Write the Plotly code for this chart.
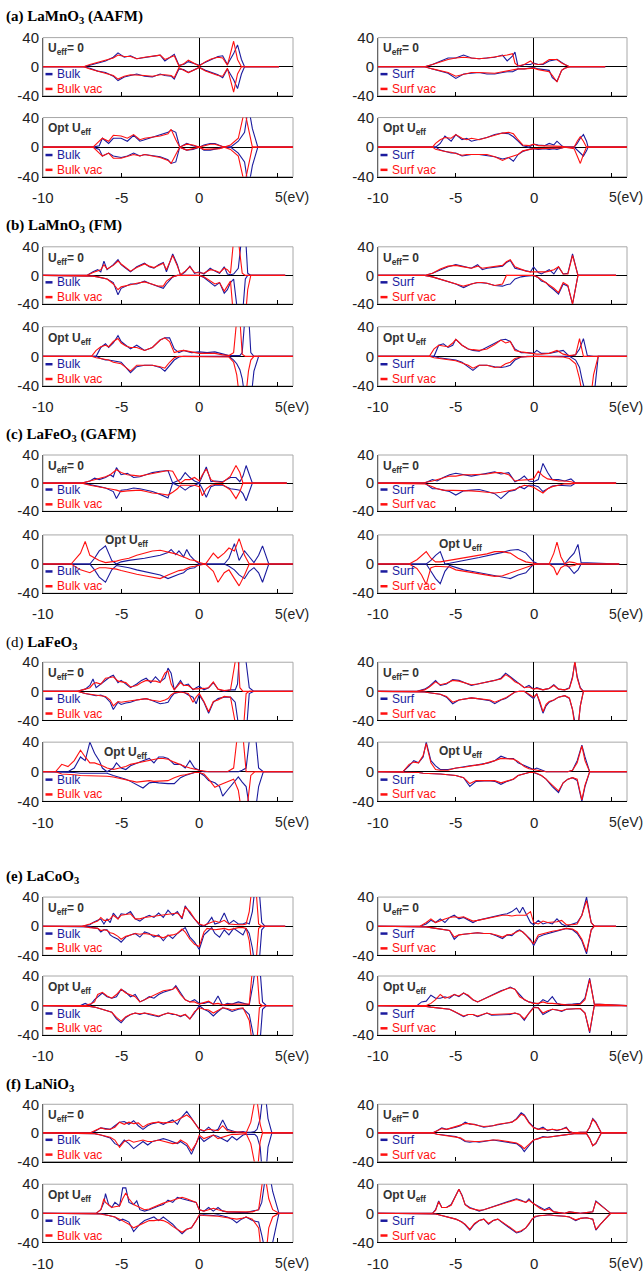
import plotly.graph_objects as go

# ===================== DATA (energy grid in eV, DOS values) =====================
# (a) LaMnO3 (AAFM)
A1_E = [-10, -7.4, -7.0, -6.5, -6.0, -5.5, -5.2, -4.8, -4.4, -4.0, -3.5, -3.0, -2.5, -2.2, -1.8, -1.6, -1.3, -1.0, -0.7, -0.3, 0.0, 0.4, 0.8, 1.2, 1.5, 1.8, 2.2, 2.45, 2.7, 2.9, 5.1]
A1_B_UP = [0, 0, 2, 5, 8, 13, 19, 13, 15, 11, 13, 15, 16, 8, 14, 17, 2, 3, 7, 4, 2, 6, 10, 14, 15, 3, 18, 30, 10, 0, 0]
A1_B_DN = [0, 0, -2, -6, -8, -13, -19, -14, -12, -10, -13, -14, -10, -12, -13, -17, -3, -4, -8, -4, -1, -5, -8, -11, -15, -3, -18, -30, -10, 0, 0]
A1_R_UP = [0, 0, 3, 6, 9, 12, 16, 14, 14, 11, 13, 14, 16, 10, 13, 15, 1, 4, 9, 5, 1, 7, 11, 13, 12, 2, 35, 10, 0, 0, 0]
A1_R_DN = [0, 0, -3, -6, -8, -12, -17, -13, -11, -11, -12, -13, -11, -11, -12, -15, -1, -5, -8, -4, -1, -6, -9, -12, -13, -2, -35, -10, 0, 0, 0]

A2_E = [-10, -7.0, -6.8, -6.4, -6.2, -5.8, -5.5, -5.0, -4.6, -4.2, -3.8, -3.5, -3.0, -2.5, -2.0, -1.8, -1.5, -1.25, -0.8, -0.4, 0, 0.3, 0.7, 1.0, 1.3, 1.6, 2.0, 2.5, 2.9, 3.15, 3.4, 3.75, 6]
A2_B_UP = [0, 0, 0, 2, 12, 5, 12, 12, 8, 16, 8, 10, 13, 16, 20, 23, 20, 0, 5, 2, 0, 3, 5, 5, 3, 0, 0, 8, 20, 55, 25, 0, 0]
A2_B_DN = [0, 0, 0, -3, -12, -8, -12, -14, -12, -8, -12, -10, -12, -13, -17, -22, -20, 0, -4, -3, 0, -4, -4, -3, -2, 0, 0, -8, -20, -55, -25, 0, 0]
A2_R_UP = [0, 0, 0, 8, 12, 8, 16, 15, 12, 17, 10, 12, 13, 15, 18, 24, 10, 0, 4, 3, 0, 2, 4, 4, 2, 0, 3, 12, 50, 25, 0, 0, 0]
A2_R_DN = [0, 0, 0, -8, -12, -8, -15, -15, -12, -10, -12, -10, -12, -14, -18, -22, -10, 0, -4, -2, 0, -3, -3, -2, -2, 0, -3, -12, -50, -25, 0, 0, 0]

A3_E = [-10, -7.0, -6.5, -6.0, -5.5, -5.0, -4.5, -4.0, -3.5, -3.0, -2.5, -2.0, -1.7, -1.35, -1.2, -1.0, -0.6, -0.2, 0, 0.3, 0.6, 1.0, 1.2, 1.5, 1.8, 2.0, 2.3, 4.6]
A3_B_UP = [0, 0, 3, 8, 12, 12, 16, 12, 11, 12, 13, 16, 8, 15, 20, 0, 3, 3, 5, 3, 3, 8, 9, 10, 6, 3, 0, 0]
A3_B_DN = [0, 0, -3, -6, -9, -16, -10, -9, -8, -10, -10, -8, -7, -7, -5, -3, -3, -2, -1, -3, -4, -5, -15, -20, -5, -2, 0, 0]
A3_R_UP = [0, 0, 3, 7, 10, 12, 13, 12, 11, 12, 13, 15, 16, 18, 5, 1, 3, 8, 4, 3, 4, 10, 10, 10, 5, 3, 0, 0]
A3_R_DN = [0, 0, -3, -6, -8, -13, -10, -8, -8, -9, -9, -7, -6, -5, -4, -3, -3, -2, -2, -4, -5, -7, -12, -21, -5, -2, 0, 0]

A4_E = [-10, -6.5, -6.3, -6.0, -5.7, -5.3, -5.0, -4.6, -4.3, -4.0, -3.5, -3.0, -2.5, -2.0, -1.6, -1.3, -1.0, -0.7, -0.3, 0, 0.3, 0.7, 1.0, 1.3, 1.5, 1.8, 2.0, 2.6, 2.8, 3.0, 3.2, 3.4, 3.5, 6]
A4_B_UP = [0, 0, 0, 5, 15, 8, 17, 10, 12, 8, 10, 13, 17, 19, 18, 14, 8, 2, 0, 4, 3, 2, 5, 3, 8, 2, 0, 0, 5, 12, 17, 8, 0, 0]
A4_B_DN = [0, 0, 0, -4, -6, -8, -8, -12, -11, -10, -10, -11, -13, -16, -14, -19, -10, -6, -3, -2, -3, -2, -3, -2, -3, -1, 0, 0, -4, -8, -12, -5, 0, 0]
A4_R_UP = [0, 0, 5, 10, 13, 12, 17, 12, 10, 12, 10, 13, 16, 19, 20, 18, 10, 3, 2, 4, 2, 2, 2, 2, 2, 1, 0, 0, 8, 14, 8, 0, 0, 0]
A4_R_DN = [0, 0, -3, -5, -6, -7, -9, -11, -10, -10, -9, -10, -13, -18, -14, -12, -10, -5, -3, -2, -2, -2, -2, -2, -2, -1, 0, -2, -12, -22, -10, 0, 0, 0]

# (b) LaMnO3 (FM)
B1_E = [-10, -7.2, -6.8, -6.5, -6.3, -6.1, -5.9, -5.5, -5.2, -5.0, -4.7, -4.4, -4.0, -3.5, -3.2, -2.9, -2.6, -2.3, -2.1, -1.7, -1.4, -1.2, -0.9, -0.6, -0.3, 0, 0.3, 0.7, 1.0, 1.3, 1.6, 1.8, 2.0, 2.2, 2.5, 2.75, 2.95, 3.1, 3.3, 5.5]
B1_B_UP = [0, 0, 5, 8, 5, 20, 8, 15, 22, 15, 10, 5, 12, 17, 12, 10, 15, 18, 5, 30, 15, 0, 5, 13, 3, 5, 2, 10, 6, 3, 12, 2, 1, 2, 10, 60, 60, 3, 0, 0]
B1_B_DN = [0, 0, -1, -2, -3, -4, -5, -10, -27, -18, -15, -12, -12, -8, -11, -13, -15, -18, -12, -2, 0, 0, 0, 0, 0, 0, -3, -10, -15, -10, -25, -20, -10, -5, -60, -60, -5, 0, 0, 0]
B1_R_UP = [0, 0, 4, 7, 8, 15, 9, 14, 20, 16, 11, 6, 11, 16, 13, 11, 14, 17, 8, 28, 13, 1, 6, 12, 4, 4, 3, 8, 7, 4, 10, 8, 3, 50, 50, 3, 0, 0, 0, 0]
B1_R_DN = [0, 0, -1, -2, -3, -4, -5, -12, -20, -16, -14, -13, -11, -9, -11, -13, -15, -15, -8, -2, 0, 0, 0, 0, 0, 0, -2, -8, -12, -10, -22, -15, -8, -60, -60, -60, -60, -20, 0, 0]

B2_E = [-10, -6.9, -6.6, -6.3, -6.0, -5.8, -5.5, -5.2, -5.0, -4.7, -4.4, -4.0, -3.5, -3.0, -2.5, -2.2, -1.9, -1.6, -1.3, -1.0, -0.5, 0, 0.5, 1.0, 1.5, 1.9, 2.2, 2.4, 2.6, 2.75, 2.95, 3.15, 3.3, 3.5, 3.8, 6]
B2_B_UP = [0, 0, 0, 12, 17, 12, 18, 28, 20, 15, 10, 15, 8, 12, 22, 25, 25, 10, 5, 8, 5, 6, 5, 6, 3, 1, 1, 1, 1, 5, 60, 60, 5, 0, 0, 0]
B2_B_DN = [0, 0, 0, -3, -5, -5, -6, -8, -8, -15, -22, -14, -12, -12, -15, -20, -12, -5, -1, 0, 0, 0, 0, 0, 0, 0, -5, -10, -18, -30, -60, -60, -60, -20, 0, 0]
B2_R_UP = [0, 0, 8, 13, 15, 13, 20, 24, 18, 14, 12, 12, 8, 12, 22, 25, 20, 5, 7, 8, 6, 4, 4, 4, 2, 1, 5, 50, 50, 3, 0, 0, 0, 0, 0, 0]
B2_R_DN = [0, 0, -2, -3, -4, -5, -8, -9, -10, -15, -20, -12, -12, -12, -14, -16, -8, -2, 0, 0, 0, 0, 0, 0, 0, -1, -8, -25, -60, -60, -60, -20, -5, 0, 0, 0]

B3_E = [-10, -7.0, -6.5, -6.0, -5.5, -5.0, -4.5, -4.0, -3.6, -3.3, -3.0, -2.5, -2.0, -1.75, -1.5, -1.2, -0.8, -0.5, -0.2, 0, 0.3, 0.5, 0.8, 1.0, 1.3, 1.6, 1.9, 2.2, 2.5, 2.85, 5.3]
B3_B_UP = [0, 0, 3, 8, 12, 15, 12, 10, 15, 8, 10, 12, 13, 18, 21, 10, 8, 7, 5, 12, 4, 2, 6, 8, 2, 12, 2, 3, 30, 0, 0]
B3_B_DN = [0, 0, -2, -5, -8, -12, -17, -12, -10, -10, -11, -14, -15, -13, -12, -5, -2, -1, 0, 0, -3, -8, -10, -15, -20, -26, -12, -15, -40, 0, 0]
B3_R_UP = [0, 0, 3, 9, 13, 14, 12, 10, 13, 10, 11, 12, 14, 19, 22, 12, 8, 6, 5, 5, 5, 4, 5, 6, 8, 12, 2, 2, 28, 0, 0]
B3_R_DN = [0, 0, -2, -5, -8, -12, -15, -12, -10, -10, -11, -14, -12, 0, 0, 0, 0, 0, 0, 0, -3, -6, -10, -13, -18, -24, -10, -14, -40, 0, 0]

B4_E = [-10, -6.7, -6.4, -6.1, -5.8, -5.5, -5.2, -5.0, -4.6, -4.2, -3.9, -3.5, -3.0, -2.5, -2.1, -1.8, -1.5, -1.2, -0.8, -0.4, 0, 0.2, 0.5, 1.0, 1.5, 1.9, 2.3, 2.7, 2.95, 3.1, 3.2, 3.45, 3.65, 3.85, 4.15, 6]
B4_B_UP = [0, 0, 0, 15, 17, 12, 15, 23, 15, 10, 8, 7, 12, 17, 22, 23, 20, 10, 5, 5, 4, 8, 4, 4, 6, 8, 0, 2, 10, 20, 24, 1, 0, 0, 0, 0]
B4_B_DN = [0, 0, 0, -2, -3, -4, -5, -5, -8, -14, -19, -12, -12, -14, -15, -14, -12, -5, -1, 0, 0, 0, 0, 0, 0, -1, 0, -5, -15, -30, -45, -60, -60, -60, 0, 0]
B4_R_UP = [0, 0, 10, 15, 14, 13, 18, 23, 15, 10, 9, 8, 10, 16, 22, 18, 20, 8, 6, 5, 3, 3, 3, 4, 8, 3, 1, 2, 24, 8, 0, 0, 0, 0, 0, 0]
B4_R_DN = [0, 0, -2, -3, -3, -4, -5, -6, -9, -12, -16, -12, -12, -15, -14, -10, -8, -3, -1, 0, 0, 0, 0, 0, 0, -1, -3, -10, -30, -60, -60, -60, -60, -25, 0, 0]

# (c) LaFeO3 (GAFM)
C1_E = [-10, -7.5, -7.0, -6.7, -6.4, -6.0, -5.7, -5.5, -5.3, -5.0, -4.6, -4.2, -3.8, -3.4, -3.0, -2.5, -2.0, -1.7, -1.4, -1.2, -0.9, -0.6, -0.3, 0, 0.2, 0.45, 0.75, 1.0, 1.5, 2.0, 2.35, 2.6, 2.8, 3.0, 3.4, 5.6]
C1_B_UP = [0, 0, 3, 7, 5, 8, 12, 9, 22, 12, 14, 8, 9, 12, 15, 17, 18, 0, 3, 5, 15, 8, 3, 0, 10, 23, 2, 3, 2, 8, 8, 2, 10, 25, 0, 0]
C1_B_DN = [0, 0, -2, -3, -5, -7, -10, -12, -22, -10, -9, -7, -8, -10, -12, -16, -21, 0, -3, -5, -10, -5, -3, 0, -8, -20, -5, -3, -3, -8, -9, -10, -15, -25, 0, 0]
C1_R_UP = [0, 0, 3, 5, 6, 9, 12, 15, 19, 15, 12, 11, 10, 12, 14, 16, 18, 17, 5, 0, 5, 5, 8, 3, 12, 20, 5, 2, 1, 10, 25, 15, 0, 0, 0, 0]
C1_R_DN = [0, 0, -3, -4, -5, -7, -8, -9, -10, -12, -11, -10, -10, -12, -14, -15, -17, -13, -8, -3, -3, -3, -3, -5, -18, -8, -3, -2, -2, -10, -22, -12, 0, 0, 0, 0]

C2_E = [-10, -8.2, -7.6, -7.3, -7.0, -6.7, -6.4, -6.0, -5.6, -5.3, -5.0, -4.5, -4.0, -3.5, -3.0, -2.5, -2.0, -1.8, -1.5, -1.3, -1.0, -0.8, -0.6, -0.3, 0, 0.4, 0.9, 1.2, 1.6, 1.9, 2.25, 2.55, 2.9, 3.2, 3.5, 3.8, 4.05, 4.45, 6]
C2_B_UP = [0, 0, 0, 0, 0, 8, 18, 25, 5, 0, 3, 5, 6, 8, 10, 12, 16, 20, 13, 18, 10, 20, 12, 5, 0, 0, 0, 0, 0, 8, 28, 5, 18, 10, 2, 12, 25, 0, 0]
C2_B_DN = [0, 0, 0, 0, 0, -8, -18, -25, -8, -2, -3, -5, -8, -10, -12, -15, -20, -18, -15, -14, -12, -8, -6, -5, 0, 0, 0, 0, 0, -3, -8, -15, -20, -10, -5, -12, -25, 0, 0]
C2_R_UP = [0, 0, 15, 31, 12, 8, 5, 2, 3, 4, 6, 8, 12, 15, 18, 19, 17, 16, 14, 12, 10, 8, 6, 5, 2, 0, 15, 8, 15, 22, 18, 35, 12, 0, 0, 0, 0, 0, 0]
C2_R_DN = [0, 0, -8, -10, -12, -8, -5, -5, -6, -7, -9, -12, -14, -16, -18, -20, -15, -13, -10, -9, -8, -6, -4, -3, -2, 0, -10, -25, -12, -8, -20, -30, -15, 0, 0, 0, 0, 0, 0]

C3_E = [-10, -7.2, -7.0, -6.5, -6.2, -5.8, -5.4, -5.0, -4.5, -4.0, -3.5, -3.0, -2.5, -2.1, -1.6, -1.2, -0.9, -0.6, -0.3, 0, 0.3, 0.6, 0.9, 1.2, 1.6, 2.0, 2.4, 2.7, 5.3]
C3_B_UP = [0, 0, 0, 5, 3, 8, 12, 14, 12, 10, 12, 14, 16, 13, 15, 2, 5, 10, 3, 2, 5, 28, 15, 5, 5, 3, 6, 0, 0]
C3_B_DN = [0, 0, 0, -8, -8, -10, -12, -17, -11, -10, -9, -12, -15, -22, -12, -10, -5, -8, -3, -3, -5, -12, -8, -4, -3, -3, -4, 0, 0]
C3_R_UP = [0, 0, 1, 3, 5, 8, 10, 10, 12, 12, 12, 13, 15, 15, 12, 3, 4, 4, 5, 6, 17, 10, 6, 5, 3, 3, 2, 0, 0]
C3_R_DN = [0, 0, -1, -5, -8, -10, -10, -11, -10, -11, -12, -13, -14, -13, -11, -9, -6, -3, -4, -6, -10, -14, -8, -5, -3, -1, -1, 0, 0]

C4_E = [-10, -8.0, -7.5, -7.2, -6.9, -6.6, -6.3, -6.0, -5.7, -5.4, -5.0, -4.5, -4.0, -3.5, -3.0, -2.5, -2.0, -1.5, -1.0, -0.5, -0.2, 0, 0.3, 1.0, 1.3, 1.5, 1.75, 2.0, 2.3, 2.6, 2.85, 3.05, 5.5]
C4_B_UP = [0, 0, 0, 0, 0, 5, 12, 17, 0, 1, 3, 5, 7, 9, 11, 14, 16, 19, 20, 15, 8, 3, 0, 0, 0, 0, 0, 0, 8, 15, 27, 2, 0]
C4_B_DN = [0, 0, 0, 0, 0, -10, -20, -27, -10, -2, -5, -8, -10, -12, -13, -15, -18, -20, -15, -12, -5, 0, 0, 0, 0, 0, 0, 0, -5, -13, -8, 0, 0]
C4_R_UP = [0, 0, 6, 12, 17, 8, 3, 3, 4, 5, 7, 8, 10, 12, 14, 17, 17, 15, 8, 3, 2, 1, 0, 0, 15, 30, 10, 0, 3, 2, 0, 0, 0]
C4_R_DN = [0, 0, -6, -15, -28, -5, -3, -3, -4, -4, -8, -10, -12, -14, -16, -17, -16, -12, -8, -4, -2, -1, 0, 0, -5, -15, -5, -2, -3, -2, 0, 0, 0]

# (d) LaFeO3
D1_E = [-10, -7.8, -7.3, -7.0, -6.8, -6.6, -6.3, -6.0, -5.7, -5.5, -5.2, -5.0, -4.7, -4.4, -4.0, -3.7, -3.4, -3.1, -2.8, -2.5, -2.2, -2.0, -1.8, -1.6, -1.2, -1.0, -0.7, -0.4, -0.2, 0, 0.3, 0.6, 0.9, 1.2, 1.6, 2.0, 2.3, 2.45, 2.6, 2.8, 3.0, 3.2, 3.5, 6]
D1_B_UP = [0, 0, 3, 8, 17, 5, 10, 15, 20, 22, 12, 15, 10, 5, 10, 15, 18, 12, 20, 13, 18, 32, 25, 2, 15, 8, 10, 2, 5, 7, 2, 5, 12, 3, 0, 2, 2, 10, 60, 60, 40, 5, 0, 0]
D1_B_DN = [0, 0, -3, -4, -5, -6, -5, -8, -15, -25, -15, -18, -16, -15, -12, -11, -10, -12, -14, -17, -16, -15, -8, -3, -1, -1, -5, -8, -17, -5, -15, -30, -15, -10, -8, -8, -15, -40, -60, -60, -60, -3, 0, 0]
D1_R_UP = [0, 0, 3, 5, 10, 12, 10, 18, 19, 20, 14, 13, 12, 6, 8, 12, 15, 14, 14, 12, 25, 28, 10, 2, 12, 8, 8, 3, 3, 3, 4, 5, 13, 3, 1, 2, 40, 60, 5, 0, 0, 0, 0, 0]
D1_R_DN = [0, 0, -3, -4, -5, -6, -6, -7, -12, -20, -14, -15, -14, -13, -11, -10, -10, -12, -13, -14, -12, -10, -5, -2, -1, -2, -3, -15, -8, -3, -14, -28, -14, -12, -7, -8, -60, -60, -60, -60, -3, 0, 0, 0]

D2_E = [-10, -9.2, -8.8, -8.4, -8.0, -7.6, -7.3, -7.0, -6.7, -6.4, -6.2, -5.9, -5.5, -5.3, -5.0, -4.7, -4.4, -4.0, -3.6, -3.2, -2.9, -2.6, -2.3, -2.0, -1.6, -1.2, -0.9, -0.6, -0.3, 0, 0.3, 0.6, 1.0, 1.3, 1.5, 1.8, 2.2, 2.5, 2.75, 3.0, 3.3, 3.55, 3.8, 4.1, 6]
D2_B_UP = [0, 0, 0, 0, 5, 20, 15, 40, 25, 15, 5, 0, 5, 12, 5, 3, 8, 12, 15, 18, 12, 20, 20, 18, 10, 10, 5, 15, 5, 2, 0, 0, 0, 0, 0, 0, 0, 0, 2, 5, 60, 60, 5, 0, 0]
D2_B_DN = [0, 0, 0, 0, -1, -2, -2, -3, -3, -3, -2, -2, -5, -6, -8, -10, -13, -18, -22, -15, -14, -15, -16, -16, -16, -8, -5, -3, -1, -1, -5, -12, -15, -20, -33, -25, -14, -7, -14, -20, -60, -60, -20, 0, 0]
D2_R_UP = [0, 0, 10, 7, 15, 29, 20, 12, 12, 10, 8, 5, 3, 4, 5, 7, 10, 12, 14, 16, 17, 18, 18, 17, 13, 9, 7, 5, 3, 2, 1, 0, 0, 0, 0, 0, 5, 60, 60, 0, 0, 0, 0, 0, 0]
D2_R_DN = [0, 0, -3, -3, -4, -5, -5, -5, -5, -5, -6, -6, -7, -8, -10, -11, -12, -14, -13, -12, -13, -13, -13, -12, -8, -5, -4, -2, -1, -1, -3, -10, -21, -18, -16, -13, -10, -25, -60, -60, -5, 0, 0, 0, 0]

D3_E = [-10, -7.5, -7.0, -6.7, -6.3, -6.0, -5.6, -5.2, -4.8, -4.4, -4.0, -3.6, -3.2, -2.8, -2.5, -2.1, -1.8, -1.5, -1.2, -0.9, -0.6, -0.3, 0, 0.2, 0.4, 0.6, 0.8, 1.0, 1.3, 1.6, 2.0, 2.3, 2.5, 2.65, 2.8, 3.0, 3.2, 6]
D3_B_UP = [0, 0, 3, 7, 15, 8, 10, 16, 15, 12, 8, 10, 12, 13, 15, 18, 25, 20, 15, 10, 5, 8, 3, 5, 3, 2, 3, 4, 9, 3, 2, 5, 20, 40, 20, 5, 0, 0]
D3_B_DN = [0, 0, -1, -2, -3, -4, -8, -17, -12, -10, -9, -10, -11, -13, -17, -12, -10, -6, -1, 0, 0, -5, -10, -3, -15, -30, -20, -15, -12, -8, -6, -10, -25, -50, -60, -20, 0, 0]
D3_R_UP = [0, 0, 2, 6, 13, 9, 11, 15, 14, 12, 9, 10, 12, 13, 15, 17, 23, 19, 13, 10, 5, 6, 3, 4, 3, 2, 3, 4, 8, 3, 2, 4, 18, 42, 18, 4, 0, 0]
D3_R_DN = [0, 0, -1, -2, -3, -4, -7, -15, -12, -10, -9, -10, -11, -12, -15, -12, -9, -5, -1, 0, 0, -4, -8, -4, -14, -28, -18, -14, -12, -8, -6, -9, -25, -50, -60, -20, 0, 0]

D4_E = [-10, -8.4, -8.0, -7.7, -7.4, -7.1, -6.9, -6.6, -6.3, -6.0, -5.5, -5.0, -4.5, -4.1, -3.7, -3.3, -2.9, -2.5, -2.1, -1.7, -1.3, -1.0, -0.6, -0.3, 0, 0.2, 0.5, 0.8, 1.2, 1.6, 1.9, 2.2, 2.5, 2.8, 3.1, 3.3, 3.6, 6]
D4_B_UP = [0, 0, 8, 15, 12, 20, 40, 15, 8, 3, 3, 5, 7, 8, 9, 10, 12, 15, 21, 18, 18, 12, 8, 5, 3, 5, 2, 0, 0, 0, 0, 0, 2, 15, 36, 20, 0, 0]
D4_B_DN = [0, 0, -1, -1, -1, -2, -2, -2, -3, -3, -4, -5, -8, -20, -13, -12, -12, -13, -17, -13, -10, -5, -3, -1, -1, -3, -5, -10, -20, -28, -15, -10, -8, -12, -40, -20, 0, 0]
D4_R_UP = [0, 0, 10, 13, 12, 22, 38, 12, 3, 2, 2, 5, 6, 8, 9, 10, 12, 15, 18, 18, 17, 14, 7, 4, 3, 2, 1, 0, 0, 0, 0, 0, 2, 12, 35, 15, 0, 0]
D4_R_DN = [0, 0, -1, -1, -1, -2, -2, -2, -3, -3, -4, -5, -8, -16, -12, -12, -11, -12, -15, -12, -10, -5, -3, -1, -1, -2, -5, -10, -18, -26, -15, -10, -8, -10, -38, -18, 0, 0]

# (e) LaCoO3
E1_E = [-10, -7.5, -7.0, -6.8, -6.5, -6.3, -6.1, -5.9, -5.7, -5.5, -5.2, -5.0, -4.7, -4.4, -4.1, -3.8, -3.5, -3.2, -2.9, -2.6, -2.3, -2.0, -1.7, -1.4, -1.1, -0.9, -0.6, -0.3, 0, 0.3, 0.5, 0.8, 1.0, 1.3, 1.6, 1.9, 2.2, 2.5, 2.8, 3.0, 3.2, 3.4, 3.6, 3.8, 4.0, 4.2, 5.5]
E1_B_UP = [0, 0, 2, 5, 8, 10, 3, 10, 5, 18, 10, 17, 16, 20, 10, 7, 12, 15, 12, 18, 12, 22, 15, 20, 10, 28, 18, 10, 2, 0, 3, 12, 3, 5, 18, 3, 8, 3, 3, 5, 3, 20, 60, 60, 5, 0, 0]
E1_B_DN = [0, 0, -1, -2, -3, -8, -5, -5, -12, -15, -18, -22, -15, -12, -10, -15, -8, -10, -15, -12, -20, -12, -17, -10, -5, -2, -15, -22, -32, -12, -8, -2, -10, -15, -5, -12, -3, -8, -12, -3, -10, -30, -60, -60, -5, 0, 0]
E1_R_UP = [0, 0, 3, 5, 7, 12, 8, 8, 10, 15, 10, 15, 16, 17, 10, 10, 12, 13, 13, 15, 15, 16, 17, 18, 12, 26, 20, 10, 3, 1, 3, 5, 7, 5, 8, 3, 2, 2, 2, 3, 20, 60, 60, 3, 0, 0, 0]
E1_R_DN = [0, 0, -2, -2, -3, -6, -5, -6, -9, -10, -14, -18, -14, -12, -10, -11, -10, -11, -12, -14, -16, -13, -12, -10, -4, -8, -18, -25, -28, -8, -3, -4, -5, -4, -3, -5, -3, -2, -2, -3, -20, -60, -60, -3, 0, 0, 0]

E2_E = [-10, -7.6, -7.3, -7.0, -6.7, -6.5, -6.2, -5.9, -5.6, -5.3, -5.0, -4.7, -4.4, -4.1, -3.8, -3.5, -3.2, -2.9, -2.6, -2.3, -2.0, -1.7, -1.5, -1.2, -0.9, -0.6, -0.3, 0, 0.3, 0.6, 0.9, 1.2, 1.5, 1.8, 2.1, 2.5, 2.8, 3.2, 3.45, 3.65, 3.85, 4.05, 4.3, 6]
E2_B_UP = [0, 0, 3, 0, 8, 12, 17, 12, 10, 12, 22, 18, 12, 15, 5, 8, 12, 10, 15, 18, 20, 22, 27, 18, 8, 5, 8, 3, 3, 5, 2, 13, 0, 3, 2, 5, 3, 1, 30, 60, 60, 5, 0, 0]
E2_B_DN = [0, 0, 0, -1, -2, -3, -5, -7, -9, -18, -23, -16, -12, -10, -12, -10, -12, -14, -15, -12, -10, -12, -12, -15, -12, -18, -10, 0, -5, -8, -14, -8, -3, -5, -8, -5, -4, -12, -40, -60, -60, -5, 0, 0]
E2_R_UP = [0, 0, 0, 2, 5, 15, 18, 13, 10, 15, 22, 17, 14, 12, 5, 8, 12, 14, 17, 20, 21, 22, 25, 15, 8, 5, 5, 2, 4, 6, 2, 3, 1, 2, 2, 2, 2, 2, 60, 60, 3, 0, 0, 0]
E2_R_DN = [0, 0, 0, -1, -2, -3, -5, -7, -9, -16, -21, -15, -12, -10, -11, -10, -11, -13, -14, -12, -10, -11, -12, -14, -12, -18, -8, -3, -5, -6, -10, -6, -3, -4, -6, -4, -3, -20, -60, -60, -3, 0, 0, 0]

E3_E = [-10, -7.3, -6.9, -6.6, -6.3, -6.0, -5.7, -5.4, -5.1, -4.8, -4.5, -4.2, -3.9, -3.6, -3.2, -2.8, -2.4, -2.0, -1.7, -1.4, -1.1, -0.9, -0.7, -0.5, -0.2, 0, 0.3, 0.6, 0.9, 1.2, 1.5, 1.8, 2.1, 2.5, 2.8, 3.1, 3.4, 3.7, 3.9, 5.3]
E3_B_UP = [0, 0, 3, 8, 5, 10, 5, 12, 15, 10, 12, 8, 5, 8, 10, 12, 15, 16, 17, 20, 25, 18, 26, 18, 5, 2, 8, 3, 5, 3, 10, 3, 0, 3, 5, 15, 40, 5, 0, 0]
E3_B_DN = [0, 0, -1, -2, -3, -5, -5, -6, -18, -12, -11, -10, -10, -9, -10, -10, -13, -17, -12, -13, -7, -5, -8, -12, -18, -27, -15, -12, -10, -8, -6, -5, -3, -5, -10, -20, -38, -5, 0, 0]
E3_R_UP = [0, 0, 5, 10, 5, 8, 10, 12, 13, 12, 13, 10, 7, 8, 10, 12, 14, 15, 15, 14, 15, 15, 15, 15, 20, 5, 3, 7, 5, 5, 6, 8, 2, 2, 3, 15, 35, 5, 0, 0]
E3_R_DN = [0, 0, -1, -2, -3, -4, -5, -6, -15, -12, -11, -10, -10, -9, -10, -10, -12, -15, -12, -11, -8, -6, -8, -12, -20, -24, -12, -10, -9, -7, -6, -5, -3, -4, -8, -18, -35, -5, 0, 0]

E4_E = [-10, -7.5, -7.2, -6.9, -6.6, -6.3, -6.0, -5.7, -5.4, -5.1, -4.8, -4.5, -4.2, -3.9, -3.6, -3.3, -3.0, -2.7, -2.4, -2.1, -1.8, -1.5, -1.2, -0.9, -0.6, -0.3, 0, 0.3, 0.6, 0.9, 1.2, 1.5, 1.8, 2.1, 2.5, 3.0, 3.3, 3.6, 3.9, 6]
E4_B_UP = [0, 0, 5, 6, 14, 10, 10, 12, 10, 15, 12, 17, 13, 8, 5, 8, 12, 14, 17, 20, 22, 25, 22, 15, 8, 5, 4, 2, 8, 5, 12, 3, 1, 1, 2, 3, 10, 37, 2, 0]
E4_B_DN = [0, 0, -1, -1, -2, -3, -3, -4, -5, -8, -12, -15, -12, -12, -15, -12, -10, -13, -13, -12, -12, -12, -10, -12, -20, -10, -2, -3, -12, -8, -5, -6, -8, -5, -5, -4, -10, -37, 0, 0]
E4_R_UP = [0, 0, 0, 0, 3, 8, 15, 10, 12, 15, 13, 17, 14, 8, 5, 8, 11, 13, 16, 20, 22, 24, 22, 12, 8, 5, 3, 3, 5, 3, 3, 2, 1, 1, 1, 2, 8, 35, 2, 0]
E4_R_DN = [0, 0, -1, -1, -2, -3, -3, -4, -5, -8, -11, -14, -12, -12, -14, -12, -10, -12, -12, -12, -12, -11, -10, -12, -18, -10, -3, -3, -10, -7, -5, -6, -7, -5, -5, -4, -10, -35, 0, 0]

# (f) LaNiO3
F1_E = [-10, -7.0, -6.7, -6.3, -6.0, -5.7, -5.4, -5.1, -4.8, -4.5, -4.2, -3.9, -3.6, -3.3, -3.0, -2.6, -2.3, -2.0, -1.7, -1.4, -1.2, -0.8, -0.5, -0.2, 0, 0.3, 0.6, 0.9, 1.2, 1.5, 1.8, 2.1, 2.4, 2.8, 3.0, 3.3, 3.55, 3.7, 3.9, 4.05, 4.25, 4.4, 4.65, 6]
F1_B_UP = [0, 0, 2, 7, 6, 5, 10, 15, 16, 12, 17, 10, 5, 10, 13, 15, 12, 15, 18, 12, 20, 30, 20, 10, 5, 2, 8, 2, 5, 18, 5, 3, 1, 2, 1, 1, 2, 5, 20, 50, 50, 20, 0, 0]
F1_B_DN = [0, 0, -1, -3, -5, -7, -15, -18, -10, -15, -22, -17, -12, -17, -12, -10, -8, -10, -13, -15, -12, -18, -30, -15, -5, -12, -8, -3, -5, -8, -12, -5, -10, -3, -2, -2, -2, -5, -20, -60, -60, -20, 0, 0]
F1_R_UP = [0, 0, 3, 7, 5, 5, 8, 15, 12, 15, 13, 14, 8, 12, 14, 15, 14, 14, 15, 18, 20, 25, 20, 10, 5, 3, 5, 4, 3, 10, 3, 2, 2, 1, 0, 15, 45, 45, 12, 0, 0, 0, 0, 0]
F1_R_DN = [0, 0, -1, -3, -4, -6, -10, -20, -12, -10, -13, -12, -10, -12, -12, -10, -12, -13, -15, -14, -10, -15, -25, -15, -3, -8, -5, -3, -8, -6, -3, -2, -2, -1, -1, -15, -60, -60, -12, 0, 0, 0, 0, 0]

F2_E = [-10, -6.6, -6.3, -6.1, -6.0, -5.8, -5.6, -5.4, -5.1, -4.9, -4.7, -4.5, -4.2, -4.0, -3.8, -3.5, -3.2, -2.9, -2.6, -2.3, -2.0, -1.7, -1.4, -1.1, -0.8, -0.5, -0.2, 0, 0.3, 0.6, 0.9, 1.2, 1.5, 1.8, 2.1, 2.4, 2.7, 3.0, 3.4, 3.8, 4.0, 4.15, 4.3, 4.45, 4.7, 5.1, 6]
F2_B_UP = [0, 0, 5, 15, 27, 12, 8, 15, 10, 35, 35, 15, 12, 17, 5, 3, 5, 8, 10, 12, 18, 15, 22, 20, 18, 17, 15, 5, 3, 8, 3, 8, 3, 2, 2, 2, 2, 1, 3, 5, 15, 40, 60, 60, 30, 0, 0]
F2_B_DN = [0, 0, -1, -1, -2, -3, -4, -5, -10, -8, -10, -12, -25, -20, -15, -10, -8, -5, -10, -5, -10, -15, -22, -28, -22, -20, -10, -3, -2, -3, -3, -2, -3, -5, -8, -13, -8, -5, -10, -12, -30, -60, -60, -60, -40, 0, 0]
F2_R_UP = [0, 0, 5, 20, 15, 12, 8, 9, 10, 20, 28, 20, 12, 10, 8, 5, 6, 9, 11, 14, 16, 18, 20, 22, 20, 17, 15, 5, 3, 5, 7, 5, 3, 2, 2, 2, 2, 1, 2, 5, 60, 60, 40, 20, 5, 0, 0]
F2_R_DN = [0, 0, -1, -2, -2, -3, -4, -5, -8, -10, -12, -15, -20, -18, -17, -13, -10, -10, -9, -10, -13, -18, -22, -26, -22, -20, -10, -2, -3, -3, -3, -4, -5, -6, -7, -8, -7, -5, -8, -20, -60, -60, -50, -20, -5, 0, 0]

F3_E = [-10, -6.5, -6.2, -5.9, -5.6, -5.3, -5.0, -4.7, -4.4, -4.1, -3.8, -3.5, -3.2, -2.9, -2.6, -2.3, -2.0, -1.7, -1.4, -1.1, -0.8, -0.6, -0.3, 0, 0.3, 0.6, 0.9, 1.2, 1.5, 1.8, 2.1, 2.3, 2.6, 3.0, 3.4, 3.6, 3.8, 4.0, 4.2, 4.35, 6]
F3_B_UP = [0, 0, 3, 7, 5, 6, 8, 10, 15, 12, 12, 10, 8, 9, 10, 12, 13, 14, 15, 20, 28, 25, 15, 8, 5, 8, 3, 5, 3, 5, 8, 2, 0, 1, 1, 8, 20, 15, 5, 0, 0]
F3_B_DN = [0, 0, -2, -3, -4, -4, -5, -8, -12, -13, -12, -13, -12, -10, -10, -11, -12, -13, -14, -15, -20, -26, -18, -10, -8, -5, -6, -5, -5, -4, -3, -2, -1, -1, -1, -8, -18, -15, -5, 0, 0]
F3_R_UP = [0, 0, 3, 6, 5, 7, 8, 10, 13, 13, 11, 10, 9, 9, 10, 12, 13, 14, 15, 19, 26, 24, 14, 7, 5, 6, 4, 5, 4, 5, 7, 2, 0, 1, 1, 8, 19, 14, 5, 0, 0]
F3_R_DN = [0, 0, -2, -3, -4, -5, -5, -7, -11, -12, -12, -12, -11, -10, -10, -10, -11, -12, -13, -14, -18, -22, -16, -10, -8, -6, -6, -5, -5, -4, -3, -2, -1, -1, -1, -8, -18, -14, -5, 0, 0]

F4_E = [-10, -6.5, -6.3, -6.1, -5.9, -5.6, -5.3, -5.0, -4.8, -4.6, -4.4, -4.1, -3.8, -3.5, -3.2, -2.9, -2.6, -2.3, -2.0, -1.7, -1.4, -1.1, -0.8, -0.5, -0.3, -0.1, 0.1, 0.4, 0.7, 1.0, 1.3, 1.6, 2.0, 2.3, 2.7, 3.0, 3.4, 3.8, 4.0, 4.3, 4.6, 4.95, 6]
F4_B_UP = [0, 0, 5, 17, 8, 8, 12, 25, 33, 25, 12, 8, 5, 3, 5, 7, 9, 12, 14, 16, 18, 20, 18, 15, 20, 15, 12, 8, 5, 8, 2, 1, 0, 2, 1, 0, 1, 2, 17, 12, 6, 0, 0]
F4_B_DN = [0, 0, -1, -2, -3, -4, -6, -8, -10, -12, -16, -23, -15, -10, -8, -15, -10, -8, -13, -18, -22, -27, -25, -20, -15, -8, -5, -3, -3, -2, -3, -3, -4, -5, -10, -7, -6, -8, -23, -15, -8, 0, 0]
F4_R_UP = [0, 0, 4, 16, 8, 8, 11, 24, 33, 24, 12, 7, 5, 4, 5, 7, 9, 11, 13, 15, 17, 19, 17, 15, 18, 15, 11, 7, 4, 6, 2, 1, 0, 2, 1, 0, 1, 2, 16, 11, 6, 0, 0]
F4_R_DN = [0, 0, -1, -2, -3, -4, -6, -8, -10, -12, -15, -22, -14, -10, -8, -14, -10, -8, -12, -17, -21, -26, -24, -20, -14, -8, -4, -3, -3, -2, -3, -3, -4, -5, -9, -7, -6, -8, -22, -15, -8, 0, 0]

SECTION_TITLES = ["<b>(a) LaMnO<sub>3</sub> (AAFM)</b>", "<b>(b) LaMnO<sub>3</sub> (FM)</b>",
                  "<b>(c) LaFeO<sub>3</sub> (GAFM)</b>", "(d) <b>LaFeO<sub>3</sub></b>",
                  "<b>(e) LaCoO<sub>3</sub></b>", "<b>(f) LaNiO<sub>3</sub></b>"]
SERIES_NAMES = [("Bulk", "Bulk vac"), ("Surf", "Surf vac")]
PANEL_LABELS = ["U<sub>eff</sub>= 0", "Opt U<sub>eff</sub>"]
X_TICK_LABELS = [(-10, "-10"), (-5, "-5"), (0, "0")]

# (section, column, row, E, first-up, first-down, vac-up, vac-down)
PANELS = [
    (0, 0, 0, A1_E, A1_B_UP, A1_B_DN, A1_R_UP, A1_R_DN), (0, 0, 1, A2_E, A2_B_UP, A2_B_DN, A2_R_UP, A2_R_DN),
    (0, 1, 0, A3_E, A3_B_UP, A3_B_DN, A3_R_UP, A3_R_DN), (0, 1, 1, A4_E, A4_B_UP, A4_B_DN, A4_R_UP, A4_R_DN),
    (1, 0, 0, B1_E, B1_B_UP, B1_B_DN, B1_R_UP, B1_R_DN), (1, 0, 1, B2_E, B2_B_UP, B2_B_DN, B2_R_UP, B2_R_DN),
    (1, 1, 0, B3_E, B3_B_UP, B3_B_DN, B3_R_UP, B3_R_DN), (1, 1, 1, B4_E, B4_B_UP, B4_B_DN, B4_R_UP, B4_R_DN),
    (2, 0, 0, C1_E, C1_B_UP, C1_B_DN, C1_R_UP, C1_R_DN), (2, 0, 1, C2_E, C2_B_UP, C2_B_DN, C2_R_UP, C2_R_DN),
    (2, 1, 0, C3_E, C3_B_UP, C3_B_DN, C3_R_UP, C3_R_DN), (2, 1, 1, C4_E, C4_B_UP, C4_B_DN, C4_R_UP, C4_R_DN),
    (3, 0, 0, D1_E, D1_B_UP, D1_B_DN, D1_R_UP, D1_R_DN), (3, 0, 1, D2_E, D2_B_UP, D2_B_DN, D2_R_UP, D2_R_DN),
    (3, 1, 0, D3_E, D3_B_UP, D3_B_DN, D3_R_UP, D3_R_DN), (3, 1, 1, D4_E, D4_B_UP, D4_B_DN, D4_R_UP, D4_R_DN),
    (4, 0, 0, E1_E, E1_B_UP, E1_B_DN, E1_R_UP, E1_R_DN), (4, 0, 1, E2_E, E2_B_UP, E2_B_DN, E2_R_UP, E2_R_DN),
    (4, 1, 0, E3_E, E3_B_UP, E3_B_DN, E3_R_UP, E3_R_DN), (4, 1, 1, E4_E, E4_B_UP, E4_B_DN, E4_R_UP, E4_R_DN),
    (5, 0, 0, F1_E, F1_B_UP, F1_B_DN, F1_R_UP, F1_R_DN), (5, 0, 1, F2_E, F2_B_UP, F2_B_DN, F2_R_UP, F2_R_DN),
    (5, 1, 0, F3_E, F3_B_UP, F3_B_DN, F3_R_UP, F3_R_DN), (5, 1, 1, F4_E, F4_B_UP, F4_B_DN, F4_R_UP, F4_R_DN),
]

for i, p in enumerate(PANELS):
    lens = [len(a) for a in p[3:]]
    if len(set(lens)) != 1:
        raise ValueError(f"panel {i} length mismatch {lens}")

# ===================== LAYOUT GEOMETRY (pixels) =====================
W, H = 643, 1282
COL_X = [(43, 293), (378, 627)]
SEC_Y = [((29, 88), (110, 170)), ((241, 299), (322, 382)), ((452, 509), (533, 592)),
         ((662, 721), (743, 803)), ((900, 959), (980, 1040)), ((1110, 1168), (1191, 1250))]
TITLE_Y = [8, 220, 432, 643, 880, 1090]
# special label positions (px, left x, center y) for a few panels
LABEL_POS = {(2, 0, 1): (103, 539), (2, 1, 1): (437, 543), (3, 0, 1): (102, 754), (3, 1, 1): (437, 753)}

BLUE = "#1b1b9e"
RED = "#ff1010"
SANS = "Arial, Liberation Sans, sans-serif"
SERIF = "Times New Roman, Liberation Serif, serif"
X_RANGE = [-10, 6]


def px(x):
    return x / W


def py(y):
    return 1 - y / H


fig = go.Figure()
layout = dict(width=W, height=H, margin=dict(l=0, r=0, t=0, b=0), paper_bgcolor="white",
              plot_bgcolor="rgba(0,0,0,0)", showlegend=False, annotations=[], shapes=[])

for k, (sec, col, row, E, bu, bd, ru, rd) in enumerate(PANELS, start=1):
    sfx = "" if k == 1 else str(k)
    xa, ya = "x" + sfx, "y" + sfx
    x0, x1 = COL_X[col]
    y0, y1 = SEC_Y[sec][row]
    layout["xaxis" + sfx] = dict(domain=[px(x0), px(x1)], anchor=ya, range=X_RANGE, showgrid=False,
                                 zeroline=True, zerolinecolor="black", zerolinewidth=1.2,
                                 showline=True, linecolor="black", linewidth=1.2,
                                 ticks="inside", ticklen=4, tickwidth=1, tickcolor="black",
                                 tickvals=[-5, 0, 5], showticklabels=False, fixedrange=True)
    layout["yaxis" + sfx] = dict(domain=[py(y1), py(y0)], anchor=xa, range=[-40, 40], showgrid=False,
                                 zeroline=True, zerolinecolor="black", zerolinewidth=1,
                                 showline=True, linecolor="#666", linewidth=1, ticks="",
                                 tickvals=[-40, 0, 40], ticktext=["-40", "0", "40"],
                                 tickfont=dict(family=SANS, size=15, color="#222"), fixedrange=True)
    # gray frame
    layout["shapes"].append(dict(type="rect", xref="paper", yref="paper", x0=px(x0), x1=px(x1),
                                 y0=py(y1), y1=py(y0), line=dict(color="#a8a8a8", width=1), layer="below"))
    for xs, ys, c in ((E, bu, BLUE), (E, bd, BLUE), (E, ru, RED), (E, rd, RED)):
        fig.add_trace(go.Scatter(x=xs, y=ys, xaxis=xa, yaxis=ya, mode="lines",
                                 line=dict(color=c, width=1.1), hoverinfo="skip"))
    # panel label
    lx, lyc = LABEL_POS.get((sec, col, row), (x0 + 3, y0 + 12))
    layout["annotations"].append(dict(xref="paper", yref="paper", x=px(lx), y=py(lyc), xanchor="left",
                                      yanchor="middle", showarrow=False, text="<b>" + PANEL_LABELS[row] + "</b>",
                                      font=dict(family=SANS, size=12, color="#333")))
    # legend entries
    names = SERIES_NAMES[col]
    for nm, c, off in ((names[0], BLUE, 22), (names[1], RED, 7)):
        yy = y1 - off
        layout["shapes"].append(dict(type="line", xref="paper", yref="paper", x0=px(x0 + 2.5), x1=px(x0 + 9.5),
                                     y0=py(yy), y1=py(yy), line=dict(color=c, width=2.5)))
        layout["annotations"].append(dict(xref="paper", yref="paper", x=px(x0 + 12), y=py(yy), xanchor="left",
                                          yanchor="middle", showarrow=False, text=nm,
                                          font=dict(family=SANS, size=12, color=c)))
    # x tick labels under bottom panels
    if row == 1:
        ty = py(y1 + 21)
        for ev, txt in X_TICK_LABELS:
            xp = x0 + (ev - X_RANGE[0]) / (X_RANGE[1] - X_RANGE[0]) * (x1 - x0)
            layout["annotations"].append(dict(xref="paper", yref="paper", x=px(xp), y=ty, xanchor="center",
                                              yanchor="middle", showarrow=False, text=txt,
                                              font=dict(family=SANS, size=15, color="#222")))
        xp5 = x0 + (5 - X_RANGE[0]) / (X_RANGE[1] - X_RANGE[0]) * (x1 - x0)
        layout["annotations"].append(dict(xref="paper", yref="paper", x=px(xp5 - 4), y=ty, xanchor="left",
                                          yanchor="middle", showarrow=False, text="5(eV)",
                                          font=dict(family=SANS, size=14, color="#222")))

for s, t in enumerate(SECTION_TITLES):
    layout["annotations"].append(dict(xref="paper", yref="paper", x=px(4), y=py(TITLE_Y[s]), xanchor="left",
                                      yanchor="middle", showarrow=False, text=t,
                                      font=dict(family=SERIF, size=15, color="black")))

fig.update_layout(**layout)
fig.write_html("out.html")
